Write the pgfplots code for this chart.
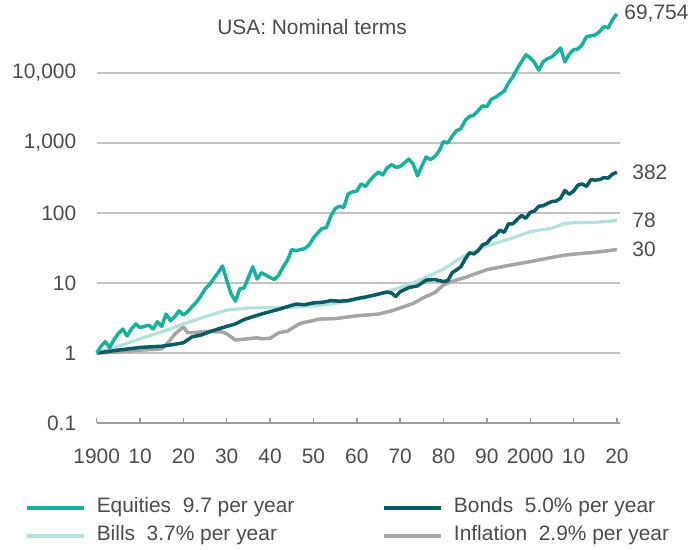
\documentclass[border=0pt]{standalone}
\usepackage{pgfplots}
\pgfplotsset{compat=1.18}
\usepackage{fontspec}
\setmainfont{Liberation Sans}
\definecolor{eqc}{RGB}{26,176,156}
\definecolor{bdc}{RGB}{10,92,98}
\definecolor{blc}{RGB}{178,226,219}
\definecolor{inc}{RGB}{165,165,165}
\definecolor{txt}{RGB}{75,75,75}
\definecolor{grd}{RGB}{195,195,195}
\newcommand{\fs}{\fontsize{21}{25}\selectfont}
\begin{document}
\begin{tikzpicture}
\begin{axis}[
  at={(96.7bp,127bp)}, anchor=south west,
  scale only axis, width=522.8bp, height=420bp,
  xmin=1900, xmax=2020.6,
  ymode=log, ymin=0.1, ymax=100000,
  clip=false,
  axis x line*=bottom, axis y line*=left,
  x axis line style={draw=grd!80!black, line width=1.6bp, -},
  y axis line style={draw=none},
  xtick={1900,1910,...,2020},
  xticklabels={1900,10,20,30,40,50,60,70,80,90,2000,10,20},
  ytick={0.1,1,10,100,1000,10000},
  yticklabels={0.1,1,10,100,{1,000},{10,000}},
  log basis y=10,
  tick align=inside,
  major tick length=5bp,
  xtick style={draw=grd!80!black, line width=1.4bp},
  ytick style={draw=none},
  minor tick num=0,
  ymajorgrids, grid style={draw=grd, line width=1.6bp},
  /pgf/number format/assume math mode=true,
  xticklabel style={font=\fs, text=txt, yshift=-22bp},
  yticklabel style={font=\fs, text=txt, xshift=-17bp},
  legend columns=2,
  legend style={at={(-0.137,-0.178)}, anchor=north west, draw=none, fill=none,
    inner sep=0pt, font=\fs, text=txt,
    nodes={inner sep=0pt, text height=15bp, text depth=5bp},
    row sep=8bp,
    /tikz/every odd column/.append style={column sep=11bp},
    /tikz/column 2/.style={column sep=88bp}},
  legend cell align=left,
  legend image code/.code={\draw[#1] (0bp,0bp) -- (57bp,0bp);},
]
\addlegendimage{eqc, line width=3.5bp}
\addlegendentry{Equities\ \ 9.7 per year}
\addlegendimage{bdc, line width=3.5bp}
\addlegendentry{Bonds\ \ 5.0\% per year}
\addlegendimage{blc, line width=3.5bp}
\addlegendentry{Bills\ \ 3.7\% per year}
\addlegendimage{inc, line width=3.5bp}
\addlegendentry{Inflation\ \ 2.9\% per year}

% Inflation
\addplot[inc, line width=3.5bp, line join=round, forget plot] table {
1900 1.0
1905 1.03
1910 1.1
1913 1.12
1915 1.15
1916 1.3
1917 1.55
1918 1.85
1919 2.1
1920 2.35
1921 1.95
1922 1.95
1924 2.0
1926 2.05
1928 2.0
1929 2.0
1930 1.88
1931 1.7
1932 1.53
1933 1.55
1935 1.6
1937 1.65
1938 1.6
1940 1.62
1941 1.78
1942 1.95
1944 2.05
1946 2.45
1947 2.65
1948 2.75
1950 2.9
1951 3.05
1955 3.1
1960 3.4
1965 3.6
1968 4.0
1970 4.4
1973 5.1
1975 6.0
1978 7.3
1980 9.4
1982 10.6
1985 12
1990 15.5
1995 17.8
2000 20.2
2005 23.2
2008 25.0
2010 25.8
2015 27.5
2020 30
};
% Bills
\addplot[blc, line width=3.2bp, line join=round, forget plot] table {
1900 1.0
1905 1.25
1910 1.6
1915 2.0
1920 2.6
1925 3.3
1930 4.1
1935 4.4
1940 4.45
1945 4.5
1950 4.7
1955 5.1
1960 5.8
1965 6.9
1970 8.6
1975 11.3
1980 15.8
1985 25
1990 34
1995 42
2000 54
2005 61
2008 71
2010 72.5
2015 73.5
2020 78
};
% Bonds
\addplot[bdc, line width=3.5bp, line join=round, forget plot] table {
1900 1.0
1905 1.1
1910 1.2
1915 1.25
1917 1.3
1920 1.4
1922 1.7
1924 1.8
1926 2.0
1928 2.2
1930 2.4
1932 2.6
1934 3.0
1936 3.3
1938 3.6
1940 3.9
1942 4.2
1944 4.6
1946 5.0
1948 4.9
1950 5.2
1952 5.3
1954 5.6
1956 5.5
1958 5.6
1960 6.0
1962 6.3
1964 6.7
1966 7.2
1967 7.4
1968 7.2
1969 6.4
1970 7.5
1972 8.6
1974 9.1
1976 11
1978 11.2
1980 10.5
1981 10.8
1982 14
1984 17
1985 22
1986 27
1987 26
1988 29
1989 35
1990 37
1991 44
1992 48
1993 57
1994 53
1995 70
1996 70
1997 81
1998 92
1999 84
2000 102
2001 107
2002 125
2003 127
2004 137
2005 146
2006 148
2007 162
2008 210
2009 185
2010 205
2011 250
2012 260
2013 240
2014 300
2015 295
2016 300
2017 320
2018 315
2019 360
2020 382
};
% Equities
\addplot[eqc, line width=3.5bp, line join=round, forget plot] table {
1900 1.0
1901 1.25
1902 1.45
1903 1.2
1904 1.55
1905 1.9
1906 2.2
1907 1.75
1908 2.2
1909 2.6
1910 2.3
1911 2.4
1912 2.5
1913 2.2
1914 2.8
1915 2.4
1916 3.6
1917 2.9
1918 3.3
1919 4.0
1920 3.5
1921 3.9
1922 4.6
1923 5.3
1924 6.5
1925 8.2
1926 9.5
1927 11.5
1928 14
1929 17.5
1930 11
1931 7
1932 5.5
1933 8.2
1934 8.5
1935 12
1936 17
1937 11.4
1938 14
1939 13
1940 12
1941 11.2
1942 13
1943 17
1944 21
1945 30
1946 29
1947 30
1948 31
1949 35
1950 44
1951 52
1952 60
1953 62
1954 90
1955 115
1956 125
1957 120
1958 187
1959 200
1960 205
1961 260
1962 240
1963 290
1964 340
1965 385
1966 350
1967 440
1968 490
1969 450
1970 460
1971 520
1972 590
1973 500
1974 340
1975 470
1976 630
1977 580
1978 640
1979 770
1980 1050
1981 1000
1982 1250
1983 1500
1984 1600
1985 2100
1986 2400
1987 2500
1988 2900
1989 3400
1990 3300
1991 4200
1992 4500
1993 5000
1994 5500
1995 7200
1996 8800
1997 11500
1998 14500
1999 18200
2000 16500
2001 14000
2002 11000
2003 14500
2004 16000
2005 17000
2006 19500
2007 22800
2008 14400
2009 18500
2010 21500
2011 22000
2012 25500
2013 33000
2014 34000
2015 35000
2016 39000
2017 46000
2018 44000
2019 58000
2020 69754
};
\node[anchor=west, font=\fs, text=txt, xshift=4bp] at (axis cs:2020,69754) {69,754};
\node[anchor=west, font=\fs, text=txt, xshift=12bp] at (axis cs:2020,382) {382};
\node[anchor=west, font=\fs, text=txt, xshift=12bp] at (axis cs:2020,78) {78};
\node[anchor=west, font=\fs, text=txt, xshift=12bp] at (axis cs:2020,30.6) {30};
\end{axis}
\node[font=\fs, text=txt] at (312bp,523bp) {USA: Nominal terms};
\pgfresetboundingbox
\useasboundingbox (0,0) rectangle (698bp,550bp);
\end{tikzpicture}
\end{document}
